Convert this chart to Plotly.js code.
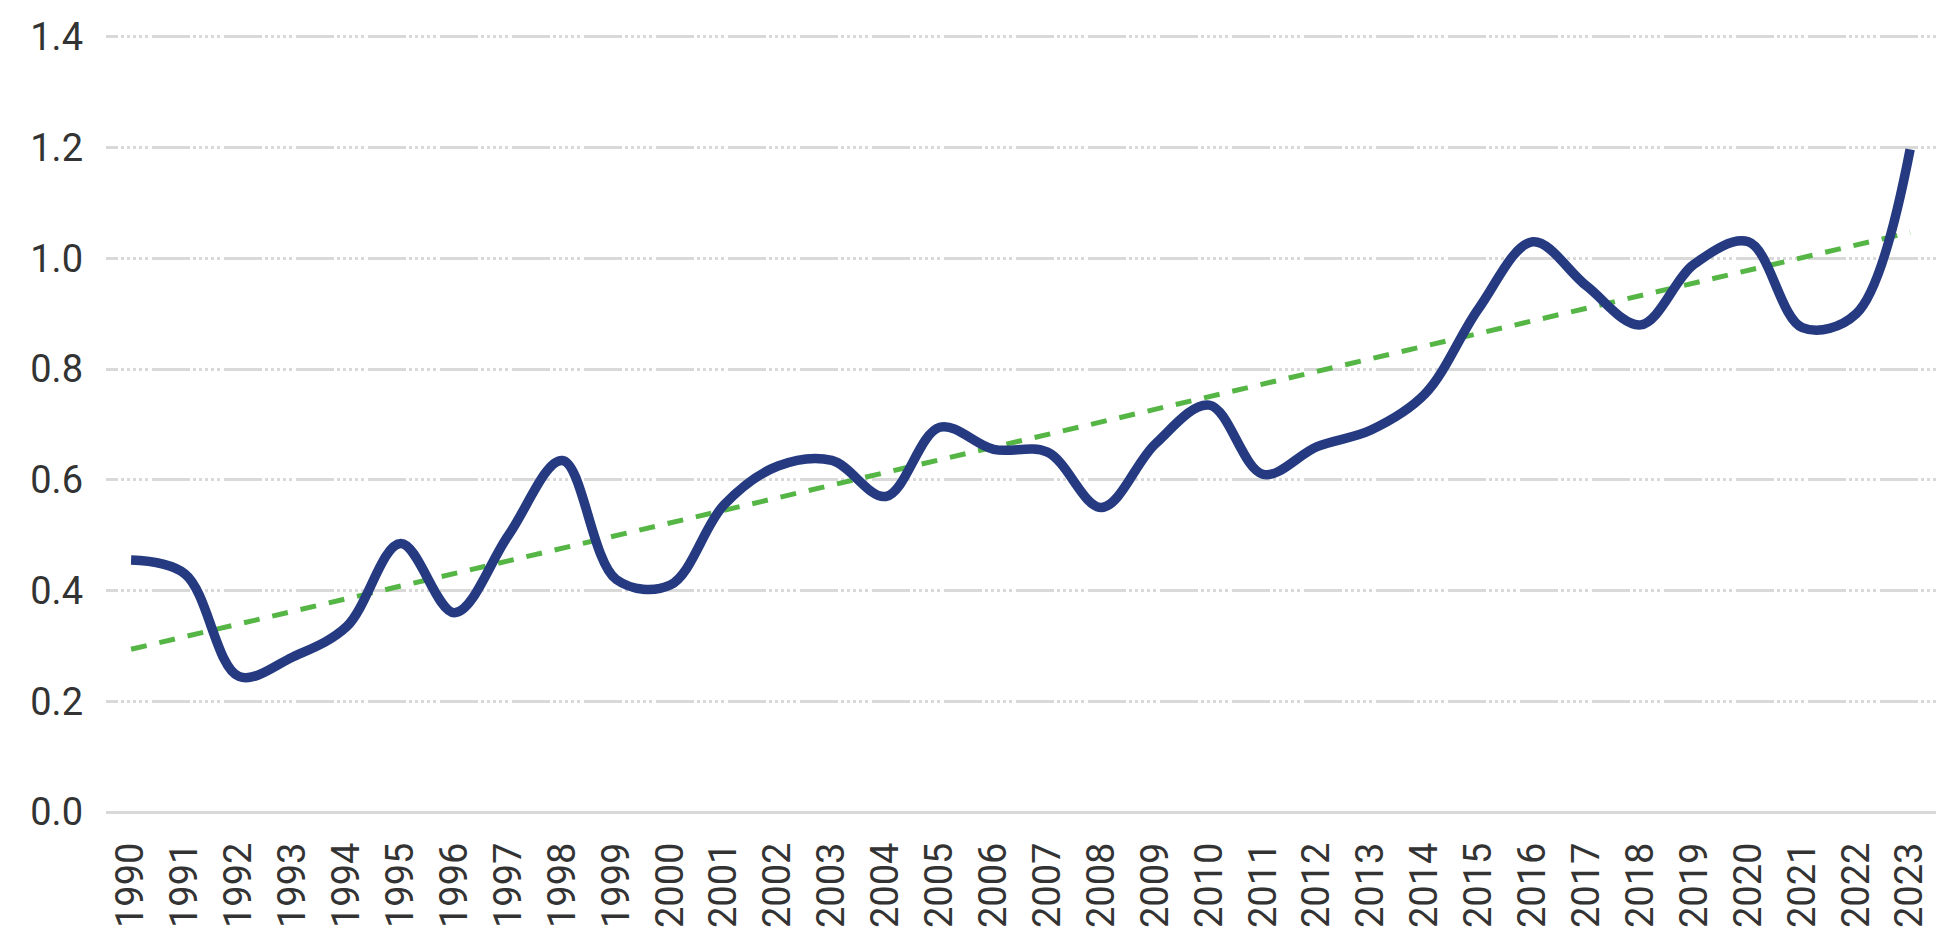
<!DOCTYPE html>
<html>
<head>
<meta charset="utf-8">
<script src="https://cdn.plot.ly/plotly-3.0.1.min.js"></script>
<style>
  html, body { margin: 0; padding: 0; background: #ffffff; }
  #chart { width: 1952px; height: 930px; }
</style>
</head>
<body>
<div id="chart"></div>
<script>
const years = ["1990","1991","1992","1993","1994","1995","1996","1997","1998","1999",
               "2000","2001","2002","2003","2004","2005","2006","2007","2008","2009",
               "2010","2011","2012","2013","2014","2015","2016","2017","2018","2019",
               "2020","2021","2022","2023"];
const anomaly = [0.455, 0.43, 0.245, 0.28, 0.335, 0.485, 0.36, 0.50, 0.635, 0.42,
                 0.41, 0.555, 0.625, 0.635, 0.57, 0.695, 0.655, 0.65, 0.55, 0.665,
                 0.735, 0.61, 0.66, 0.69, 0.755, 0.91, 1.03, 0.95, 0.88, 0.99,
                 1.03, 0.875, 0.90, 1.197];
// Linear trend line, end values
const trendYears = ["1990", "2023"];
const trendValues = [0.294, 1.047];
const yTicks = [0, 0.2, 0.4, 0.6, 0.8, 1.0, 1.2, 1.4];
const yTickText = ["0.0","0.2","0.4","0.6","0.8","1.0","1.2","1.4"];

const font = "Roboto, 'Noto Sans', sans-serif";
const gridDash = "12px,3px,3px,3px,3px,3px,3px,3px,3px,3px,3px,4px,26px,0px";

const data = [
  {
    x: trendYears, y: trendValues, type: "scatter", mode: "lines",
    line: { color: "#55b646", width: 5, dash: "16px,13px" },
    hoverinfo: "skip"
  },
  {
    x: years, y: anomaly, type: "scatter", mode: "lines",
    line: { color: "#253a80", width: 9.5, shape: "spline", smoothing: 1 }
  }
];

const layout = {
  width: 1952, height: 930,
  margin: { l: 106, r: 16, t: 32, b: 118 },
  paper_bgcolor: "#ffffff", plot_bgcolor: "#ffffff",
  showlegend: false,
  font: { family: font, size: 38, color: "#333333" },
  xaxis: {
    type: "category",
    categoryorder: "array",
    categoryarray: years,
    range: [-0.465, 33.48],
    tickangle: -90,
    ticks: "",
    showgrid: false,
    showline: false,
    zeroline: false,
    ticklabelstandoff: 22,
    tickfont: { family: font, size: 38, color: "#333333" }
  },
  yaxis: {
    range: [0, 1.409],
    tickvals: yTicks,
    ticktext: yTickText,
    ticks: "",
    showline: false,
    showgrid: true,
    gridcolor: "#d9d9d9",
    gridwidth: 3,
    griddash: gridDash,
    zeroline: true,
    zerolinecolor: "#d9d9d9",
    zerolinewidth: 3,
    ticklabelstandoff: 22,
    tickfont: { family: font, size: 38, color: "#333333" }
  }
};

Plotly.newPlot("chart", data, layout, { staticPlot: true, displayModeBar: false });
</script>
</body>
</html>
